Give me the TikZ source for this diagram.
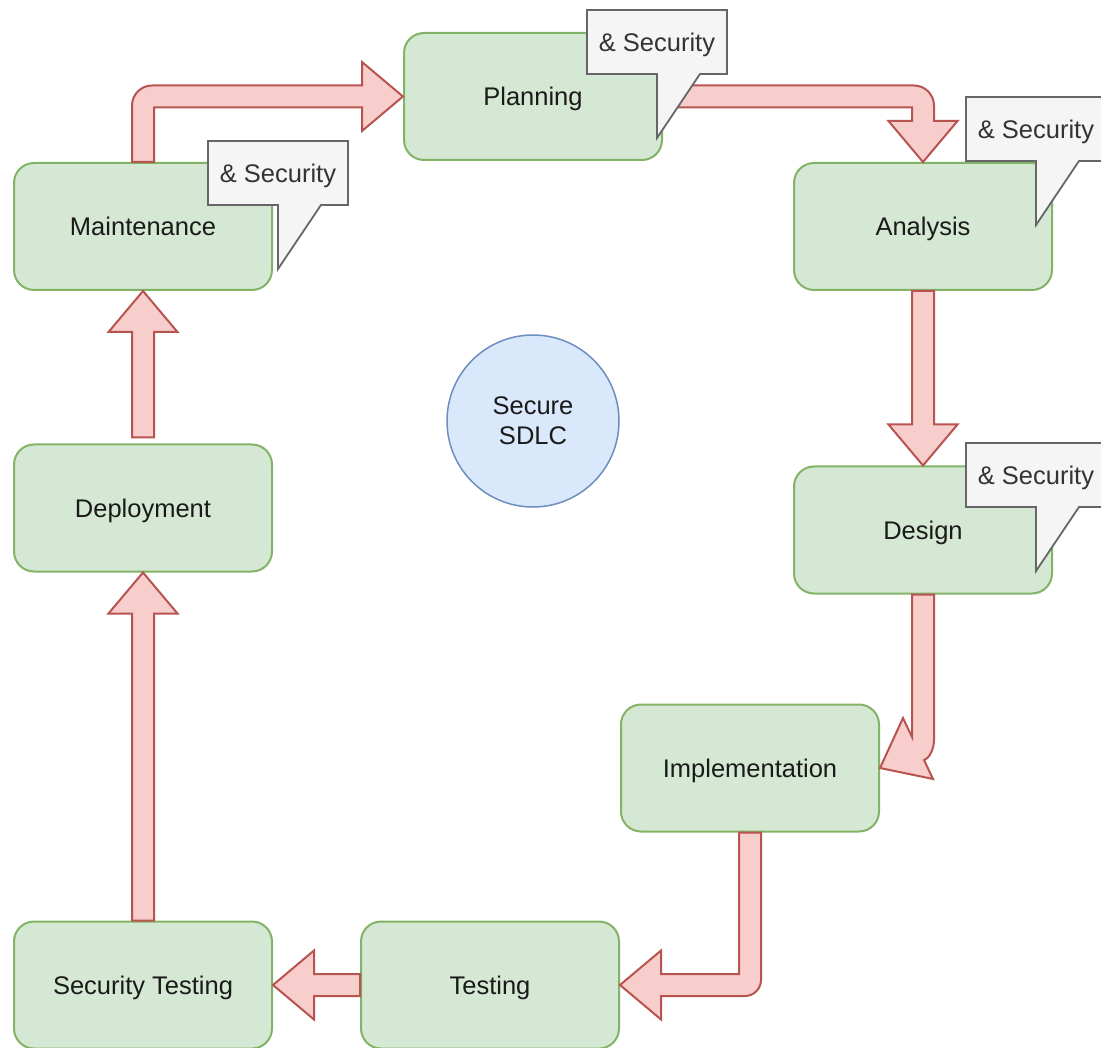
\documentclass[tikz,border=0pt]{standalone}
\usepackage{fontspec}
\setmainfont{Liberation Sans}
\usetikzlibrary{calc}
\definecolor{gfill}{HTML}{D5E8D4}
\definecolor{gline}{HTML}{82B366}
\definecolor{rfill}{HTML}{F8CECC}
\definecolor{rline}{HTML}{B85450}
\definecolor{bfill}{HTML}{DAE8FC}
\definecolor{bline}{HTML}{6C8EBF}
\definecolor{cfill}{HTML}{F5F5F5}
\definecolor{cline}{HTML}{666666}
\definecolor{ctext}{HTML}{333333}
\definecolor{ntext}{HTML}{1A1A1A}
\tikzset{
  phase/.style={draw=gline, fill=gfill, line width=2pt, rounded corners=20pt,
    minimum width=258pt, minimum height=127pt, inner sep=0pt,
    text height=18.6pt, text depth=0pt,
    font=\fontsize{25.5}{30}\selectfont, text=ntext},
  hub/.style={circle, draw=bline, fill=bfill, line width=1.5pt, minimum size=172pt,
    inner sep=0pt, align=center, font=\fontsize{25.5}{30}\selectfont, text=ntext},
  flex/.style={draw=rline, fill=rfill, line width=2pt, line join=miter},
  callshape/.style={draw=cline, fill=cfill, line width=1.8pt, line join=miter},
  calltext/.style={inner sep=0pt, text height=18.6pt, text depth=0pt, text=ctext,
    font=\fontsize{25.5}{30}\selectfont},
}
\newcommand\flexstraight[2]{%
  \coordinate (fb) at ($(#2)!41pt!(#1)$);
  \draw[flex] ($(#1)!11pt!90:(#2)$) -- ($(fb)!11pt!90:(#2)$) -- ($(fb)!34.5pt!90:(#2)$)
    -- (#2) -- ($(fb)!34.5pt!-90:(#2)$) -- ($(fb)!11pt!-90:(#2)$) -- ($(#1)!11pt!-90:(#2)$) -- cycle;}
\newcommand\securitycallout[2]{%
  \coordinate (#1) at (#2);
  \draw[callshape] (#1) -- ++(140,0) -- ++(0,64) -- ++(-27,0) -- ++(-43,64) -- ++(0,-64) -- ++(-70,0) -- cycle;
  \node[calltext] (#1t) at ($(#1)+(70,32)$) {\& Security};}
\begin{document}
\begin{tikzpicture}[x=1pt, y=-1pt]
\useasboundingbox (0,0) rectangle (1101,1048);

% phases
\node[phase] (plan)  at (533,96.5)  {Planning};
\node[phase] (maint) at (143,226.5) {Maintenance};
\node[phase] (anal)  at (923,226.5) {Analysis};
\node[phase] (dep)   at (143,508)   {Deployment};
\node[phase] (des)   at (923,530)   {Design};
\node[phase] (impl)  at (750,768)   {Implementation};
\node[phase] (sect)  at (143,985)   {Security Testing};
\node[phase] (test)  at (490,985)   {Testing};
\node[hub]   (sdlc)  at (533,421)   {\raisebox{-2pt}{Secure}\\\raisebox{-2pt}{SDLC}};

% Maintenance -> Planning
\coordinate (k1) at (maint.north |- plan.west);
\draw[flex] ($(maint.north)+(-11,0)$) -- ($(k1)+(-11,9)$)
  .. controls ($(k1)+(-11,-2)$) and ($(k1)+(-2,-11)$) .. ($(k1)+(9,-11)$)
  -- ($(plan.west)+(-41,-11)$) -- ($(plan.west)+(-41,-34.5)$) -- (plan.west)
  -- ($(plan.west)+(-41,34.5)$) -- ($(plan.west)+(-41,11)$) -- ($(k1)+(11,11)$)
  -- ($(maint.north)+(11,0)$) -- cycle;

% Planning -> Analysis
\coordinate (k2) at (plan.east -| anal.north);
\draw[flex] ($(plan.east)+(0,-11)$) -- ($(k2)+(-9,-11)$)
  .. controls ($(k2)+(2,-11)$) and ($(k2)+(11,-2)$) .. ($(k2)+(11,9)$)
  -- ($(anal.north)+(11,-41)$) -- ($(anal.north)+(34.5,-41)$) -- (anal.north)
  -- ($(anal.north)+(-34.5,-41)$) -- ($(anal.north)+(-11,-41)$) -- ($(k2)+(-11,11)$)
  -- ($(plan.east)+(0,11)$) -- cycle;

% Analysis -> Design
\flexstraight{anal.south}{des.north}

% Design -> Implementation
\coordinate (k3) at (des.south |- impl.east);
\draw[flex] ($(des.south)+(-11,0)$) -- ($(k3)+(-11,-31)$) -- ($(k3)+(-20,-50)$)
  -- (impl.east) -- ($(k3)+(10,11)$) -- ($(k3)+(1,-8)$)
  .. controls ($(k3)+(7,-10)$) and ($(k3)+(11,-20)$) .. ($(k3)+(11,-28)$)
  -- ($(des.south)+(11,0)$) -- cycle;

% Implementation -> Testing
\coordinate (k4) at (impl.south |- test.east);
\draw[flex] ($(impl.south)+(11,0)$) -- ($(k4)+(11,-5)$)
  .. controls ($(k4)+(11,3.8)$) and ($(k4)+(3.8,11)$) .. ($(k4)+(-5,11)$)
  -- ($(test.east)+(41,11)$) -- ($(test.east)+(41,34.5)$) -- (test.east)
  -- ($(test.east)+(41,-34.5)$) -- ($(test.east)+(41,-11)$) -- ($(k4)+(-11,-11)$)
  -- ($(impl.south)+(-11,0)$) -- cycle;

% Testing -> Security Testing
\flexstraight{test.west}{sect.east}

% Security Testing -> Deployment
\flexstraight{sect.north}{dep.south}

% Deployment -> Maintenance
\coordinate (s5) at ($(dep.north)+(0,-6)$);
\flexstraight{s5}{maint.south}

% callouts
\securitycallout{cplan}{587,10}
\securitycallout{canal}{966,97}
\securitycallout{cmaint}{208,141}
\securitycallout{cdes}{966,443}
\end{tikzpicture}
\end{document}
